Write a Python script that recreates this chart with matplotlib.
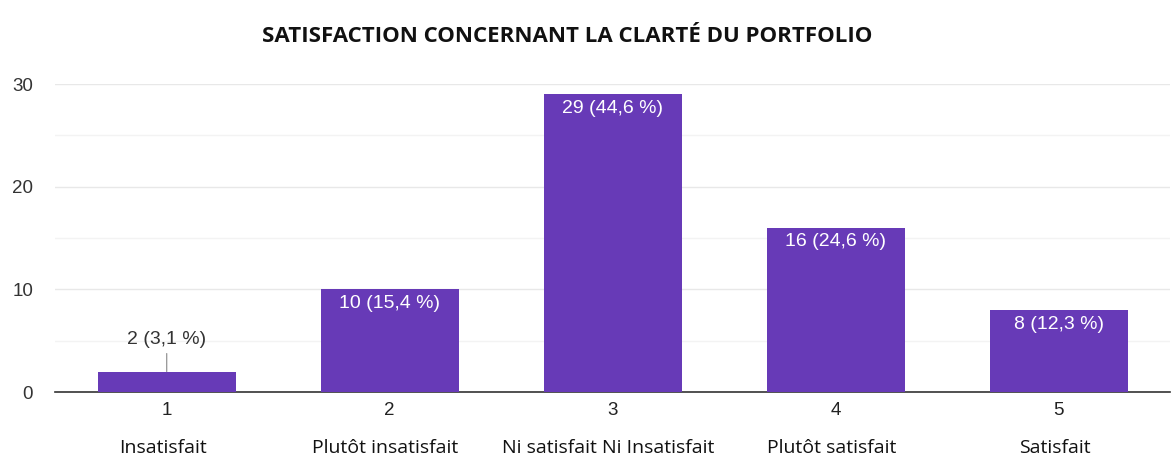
import numpy as np
import matplotlib.pyplot as plt

# data
categories = ["1", "2", "3", "4", "5"]
labels = ["Insatisfait", "Plutôt insatisfait", "Ni satisfait Ni Insatisfait",
          "Plutôt satisfait", "Satisfait"]
counts = [2, 10, 29, 16, 8]
percents = ["3,1", "15,4", "44,6", "24,6", "12,3"]

purple = "#673ab7"

fig = plt.figure(figsize=(11.75, 4.57), dpi=100)
ax = fig.add_axes([0.047, 0.142, 0.949, 0.674])

x = np.arange(len(categories))
bars = ax.bar(x, counts, width=0.62, color=purple, zorder=3)

ax.set_xlim(-0.5, len(categories) - 0.5)
ax.set_ylim(0, 30)
ax.set_yticks([0, 10, 20, 30])
ax.set_yticks([5, 15, 25], minor=True)
ax.grid(axis="y", which="major", color="#e8e8e8", lw=1, zorder=0)
ax.grid(axis="y", which="minor", color="#f3f3f3", lw=1, zorder=0)
ax.tick_params(axis="y", which="both", length=0, pad=16, labelsize=13.5,
               labelcolor="#333333")
for t in ax.get_yticklabels():
    t.set_family("Liberation Sans")
    t.set_horizontalalignment("right")

for s in ["top", "right", "left"]:
    ax.spines[s].set_visible(False)
ax.spines["bottom"].set_color("#333333")
ax.spines["bottom"].set_linewidth(1.2)

ax.set_xticks(x)
ax.set_xticklabels(categories, family="Liberation Sans", fontsize=13.5,
                   color="#222222")
ax.tick_params(axis="x", length=0, pad=7)

# category names under the numbers
for xi, lab in zip(x, labels):
    ax.annotate(lab, (xi, 0), xytext=(-3, -40), textcoords="offset points",
                ha="center", va="center", family="Open Sans", fontsize=14,
                color="#111111", annotation_clip=False)

# value labels
for xi, c, p in zip(x, counts, percents):
    txt = f"{c} ({p} %)"
    if c >= 5:
        ax.annotate(txt, (xi, c), xytext=(0, -4), textcoords="offset points",
                    ha="center", va="top", color="white", fontsize=14,
                    family="Liberation Sans", zorder=4)
    else:
        ax.annotate(txt, (xi, c), xytext=(0, 17), textcoords="offset points",
                    ha="center", va="bottom", color="#333333", fontsize=14,
                    family="Liberation Sans", zorder=4,
                    arrowprops=dict(arrowstyle="-", color="#888888", lw=0.8,
                                    shrinkA=2, shrinkB=0))

fig.text(0.483, 0.92, "SATISFACTION CONCERNANT LA CLARTÉ DU PORTFOLIO",
         ha="center", va="center", family="Open Sans", weight="bold",
         fontsize=16, color="#111111")

fig.savefig("out.png", dpi=100, facecolor="white")
